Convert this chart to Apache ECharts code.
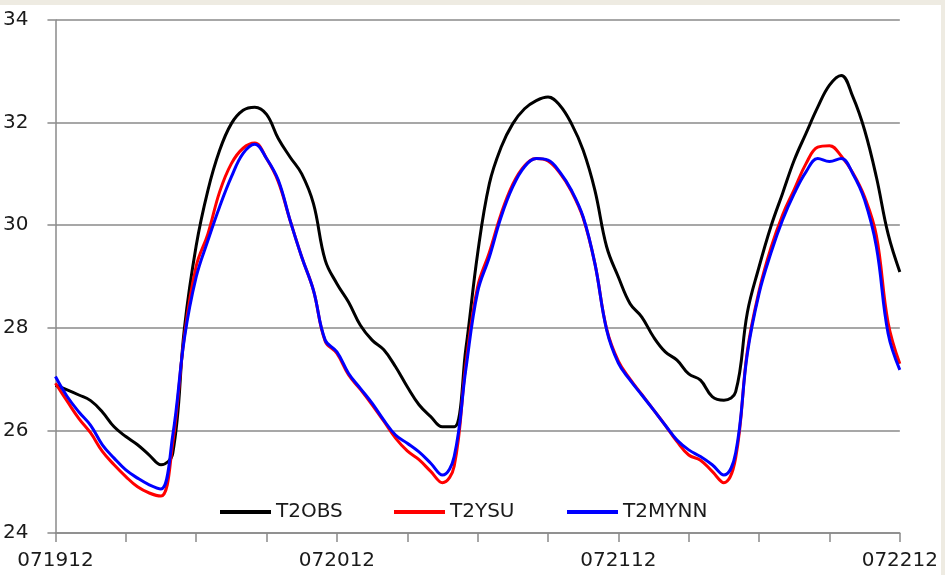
<!DOCTYPE html>
<html>
<head>
<meta charset="utf-8">
<script src="https://cdn.jsdelivr.net/npm/echarts@6/dist/echarts.min.js"></script>
<style>
html,body{margin:0;padding:0;background:#EEEBE2;width:945px;height:575px;overflow:hidden;}
#c{position:absolute;left:0;top:5px;width:941px;height:570px;background:#ffffff;}
</style>
</head>
<body>
<div id="c"></div>
<script>
// hours since 07/19 12h
var hours = [0,1,2,3,4,5,6,7,8,9,10,11,12,13,14,15,16,17,18,19,20,21,22,23,24,25,26,27,28,29,30,31,32,33,34,35,36,37,38,39,40,41,42,43,44,45,46,47,48,49,50,51,52,53,54,55,56,57,58,59,60,61,62,63,64,65,66,67,68,69,70,71,72];
var dayLabels = ['071912','072012','072112','072212'];
var seriesNames = ['T2OBS','T2YSU','T2MYNN'];

var t2obs = [26.88,26.79,26.69,26.58,26.36,26.07,25.88,25.72,25.52,25.33,25.55,28.0,29.6,30.68,31.46,31.98,32.24,32.3,32.16,31.69,31.33,31.0,30.42,29.32,28.86,28.5,28.05,27.76,27.57,27.24,26.85,26.5,26.27,26.07,26.07,27.6,29.45,30.81,31.52,31.98,32.27,32.43,32.5,32.34,31.98,31.46,30.68,29.58,28.99,28.47,28.21,27.82,27.53,27.37,27.1,26.98,26.66,26.59,26.75,28.3,29.19,29.97,30.62,31.27,31.79,32.3,32.73,32.92,32.5,31.85,30.94,29.83,29.09];

var t2ysu = [26.92,26.57,26.23,25.95,25.59,25.33,25.1,24.9,24.78,24.72,25.75,27.85,29.2,29.83,30.65,31.2,31.5,31.6,31.3,30.85,30.1,29.38,28.73,27.74,27.5,27.08,26.8,26.5,26.18,25.85,25.6,25.43,25.2,24.98,25.3,27.3,28.8,29.47,30.22,30.8,31.16,31.3,31.25,31.02,30.66,30.14,29.25,27.98,27.35,27.0,26.7,26.4,26.1,25.78,25.52,25.42,25.2,24.98,25.46,27.55,28.72,29.55,30.2,30.7,31.2,31.52,31.55,31.35,31.02,30.55,29.8,28.1,27.3];

var t2mynn = [27.05,26.66,26.36,26.1,25.72,25.46,25.23,25.07,24.94,24.86,25.9,27.8,28.99,29.7,30.36,30.94,31.4,31.58,31.3,30.88,30.1,29.38,28.73,27.76,27.53,27.11,26.82,26.53,26.2,25.91,25.75,25.58,25.36,25.13,25.49,27.2,28.7,29.38,30.16,30.75,31.14,31.3,31.27,31.04,30.68,30.16,29.25,27.96,27.31,26.98,26.69,26.4,26.1,25.81,25.62,25.49,25.33,25.13,25.56,27.5,28.67,29.45,30.1,30.62,31.04,31.3,31.24,31.3,31.0,30.49,29.58,27.89,27.18];

function pairs(vals){ return hours.map(function(h,i){ return [h, vals[i]]; }); }

var FONT = 'DejaVu Sans';
var gridColor = '#8a8a8a';
var textColor = '#1a1a1a';
var legendLefts = [215, 389, 562];

function legendFor(i){
  return {
    data:[seriesNames[i]],
    left:legendLefts[i], top:492,
    icon:'rect', itemWidth:51, itemHeight:4,
    textStyle:{fontFamily:FONT, fontSize:20, color:textColor}
  };
}

var chart = echarts.init(document.getElementById('c'), null, {renderer:'canvas'});
chart.setOption({
  animation:false,
  backgroundColor:'#ffffff',
  grid:{left:55, right:39, top:15, bottom:42, containLabel:false},
  legend:[legendFor(0), legendFor(1), legendFor(2)],
  xAxis:{
    type:'value', min:0, max:72, interval:6,
    axisLine:{show:true, lineStyle:{color:gridColor, width:1.5}},
    axisTick:{show:true, length:9, lineStyle:{color:gridColor, width:1.5}},
    splitLine:{show:false},
    axisLabel:{
      margin:18, fontFamily:FONT, fontSize:20, color:textColor,
      formatter:function(v){ return (v % 24 === 0) ? dayLabels[v/24] : ''; },
      showMinLabel:true, showMaxLabel:true
    }
  },
  yAxis:{
    type:'value', min:24, max:34, interval:2,
    axisLine:{show:true, lineStyle:{color:gridColor, width:1.5}},
    axisTick:{show:true, length:8, lineStyle:{color:gridColor, width:1.5}},
    splitLine:{show:true, lineStyle:{color:gridColor, width:1.5}},
    axisLabel:{margin:27, fontFamily:FONT, fontSize:20, color:textColor}
  },
  series:[
    {name:seriesNames[0], type:'line', data:pairs(t2obs), smooth:0.4, showSymbol:false, symbol:'none', lineStyle:{color:'#000000', width:3}, itemStyle:{color:'#000000'}},
    {name:seriesNames[1], type:'line', data:pairs(t2ysu), smooth:0.4, showSymbol:false, symbol:'none', lineStyle:{color:'#ff0000', width:3}, itemStyle:{color:'#ff0000'}},
    {name:seriesNames[2], type:'line', data:pairs(t2mynn), smooth:0.4, showSymbol:false, symbol:'none', lineStyle:{color:'#0000ff', width:3}, itemStyle:{color:'#0000ff'}}
  ]
});
</script>
</body>
</html>
